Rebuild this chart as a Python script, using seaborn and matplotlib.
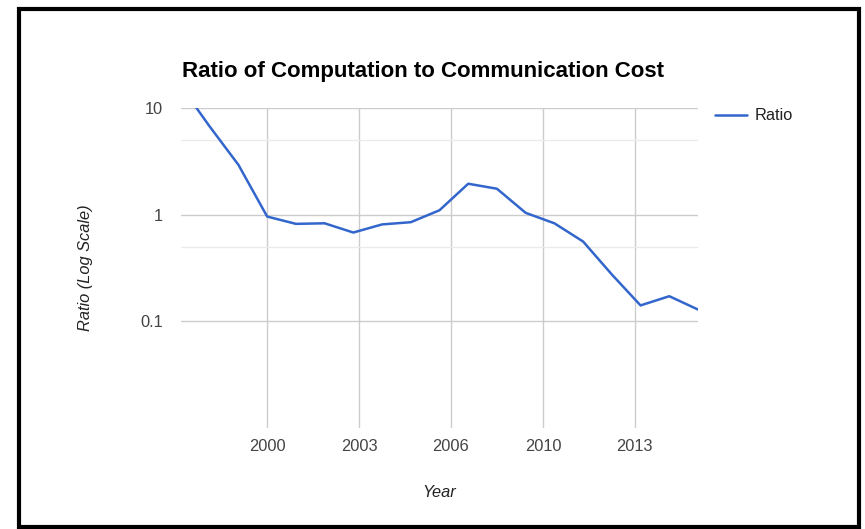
import numpy as np
import pandas as pd
import seaborn as sns
import matplotlib.pyplot as plt
from matplotlib.patches import Rectangle

# values
years = [1997, 1998, 1999, 2000, 2001, 2002, 2003, 2004, 2005, 2006,
         2007, 2008, 2009, 2010, 2011, 2012, 2013, 2014, 2015]
ratio = [16.0, 6.7, 2.93, 0.96, 0.82, 0.83, 0.68, 0.81, 0.85, 1.10,
         1.95, 1.75, 1.04, 0.83, 0.56, 0.275, 0.141, 0.172, 0.129]

x_ticks = [2000, 2003.2, 2006.4, 2009.6, 2012.8]
x_tick_labels = ["2000", "2003", "2006", "2010", "2013"]
y_ticks = [0.1, 1, 10]
y_tick_labels = ["0.1", "1", "10"]
y_minor = [0.5, 5]

df = pd.DataFrame({"Year": years, "Ratio": ratio})

sns.set_style("white")
plt.rcParams['font.family'] = ['Liberation Sans', 'DejaVu Sans']

W, H = 865, 529
fig = plt.figure(figsize=(W / 100, H / 100), dpi=100)
ax = fig.add_axes([181 / W, 1 - 428 / H, (698 - 181) / W, (428 - 108) / H])

sns.lineplot(data=df, x="Year", y="Ratio", ax=ax, color="#3366cc",
             linewidth=1.8, label="Ratio")

ax.set_yscale("log")
ax.set_ylim(0.01, 10)
ax.set_xlim(1997, 2015)

ax.set_yticks(y_ticks)
ax.set_yticklabels(y_tick_labels)
ax.set_yticks(y_minor, minor=True)
ax.set_xticks(x_ticks)
ax.set_xticklabels(x_tick_labels)

ax.grid(True, which="major", color="#cccccc", linewidth=1.0)
ax.grid(True, which="minor", axis="y", color="#ebebeb", linewidth=1.0)
ax.set_axisbelow(True)
for s in ax.spines.values():
    s.set_visible(False)

fs = 11.8
ax.tick_params(axis="both", which="both", length=0, labelsize=fs, colors="#444444")
ax.tick_params(axis="y", which="minor", labelleft=False)
ax.tick_params(axis="y", pad=13)
ax.tick_params(axis="x", pad=8)

ax.set_xlabel("Year", fontsize=fs, fontstyle="italic", color="#222222", labelpad=22)
ax.set_ylabel("Ratio (Log Scale)", fontsize=fs, fontstyle="italic", color="#222222", labelpad=34)

fig.text(423 / W, 1 - 72 / H, "Ratio of Computation to Communication Cost",
         ha="center", va="center", fontsize=16, fontweight="bold", color="#000000")

ax.legend(loc="center left", bbox_to_anchor=((708 - 181) / (698 - 181), (428 - 116) / (428 - 108)),
          frameon=False, fontsize=fs, handlelength=2.0, handletextpad=0.45,
          borderaxespad=0, labelcolor="#222222")

# black frame around the whole picture
fig.patches.append(Rectangle((18.5 / W, 1 - 527 / H), (859 - 18.5) / W, (527 - 9) / H,
                             transform=fig.transFigure, fill=False,
                             edgecolor="black", linewidth=3))

fig.savefig("out.png", dpi=100)
